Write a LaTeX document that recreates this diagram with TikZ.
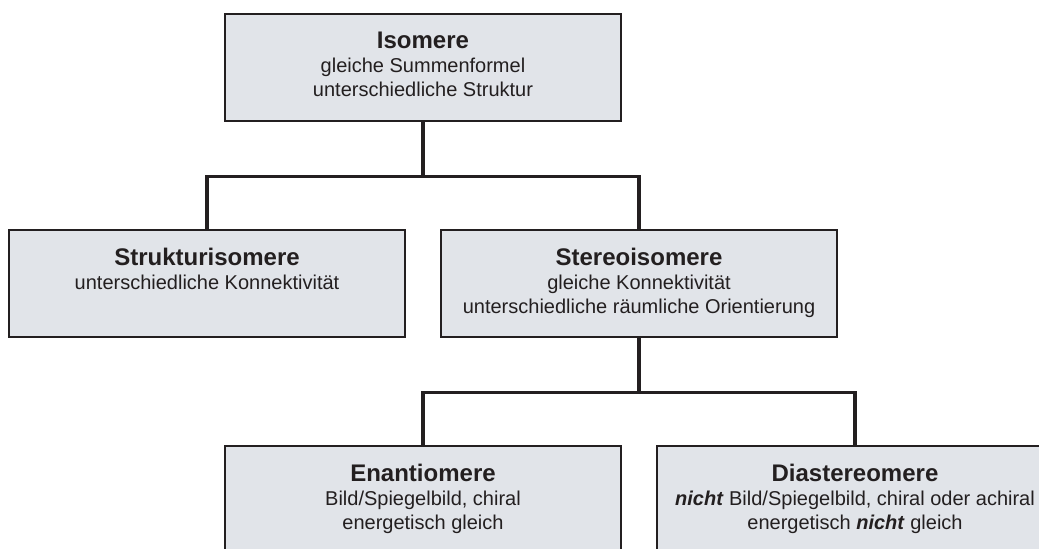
\documentclass[tikz,border=0pt]{standalone}
\usepackage{fontspec}
\setmainfont{Liberation Sans}
\usepackage{tikz}
\usetikzlibrary{positioning}
\definecolor{boxfill}{RGB}{225,228,233}
\definecolor{boxline}{RGB}{35,31,32}
\newcommand{\titel}[1]{{\fontsize{18pt}{18pt}\selectfont\bfseries #1}}
\tikzset{
  box node/.style={rectangle,draw=boxline,fill=boxfill,line width=1.9pt,
	minimum width=297pt,minimum height=80.25pt,inner sep=0pt},
  text node/.style={align=center,inner sep=0pt,text=boxline,
	font=\fontsize{15pt}{18pt}\selectfont},
  link/.style={draw=boxline,line width=2.3pt}
}

\begin{document}
\begin{tikzpicture}[x=0.75pt,y=0.75pt]
			    \useasboundingbox (0,0) rectangle (1039,-549);
			    \clip (0,0) rectangle (1039,-549);
			    \node [box node] (iso) at (423,-67.5) {};
			    \node [box node] (struktur) at (207,-283.5) {};
			    \node [box node] (stereo) at (639,-283.5) {};
			    \node [box node] (enantio) at (423,-499.5) {};
			    \node [box node] (diastereo) at (855,-499.5) {};
			    \node [text node,below=14.25pt of iso.north] (iso text)
			      {\titel{Isomere}\\gleiche Summenformel\\unterschiedliche Struktur};
			    \node [text node,below=14.25pt of struktur.north] (struktur text)
			      {\titel{Strukturisomere}\\unterschiedliche Konnektivität};
			    \node [text node,below=14.25pt of stereo.north] (stereo text)
			      {\titel{Stereoisomere}\\gleiche Konnektivität\\unterschiedliche räumliche Orientierung};
			    \node [text node,below=14.25pt of enantio.north] (enantio text)
			      {\titel{Enantiomere}\\Bild/Spiegelbild, chiral\\energetisch gleich};
			    \node [text node,below=14.25pt of diastereo.north] (diastereo text)
			      {\titel{Diastereomere}\\\textbf{\textit{nicht}} Bild/Spiegelbild, chiral oder achiral\\energetisch \textbf{\textit{nicht}} gleich};
			    \draw [link] (iso.south) -- +(0,-54.5) coordinate (iso fork);
			    \draw [link] (struktur.north) |- (iso fork) -| (stereo.north);
			    \draw [link] (stereo.south) -- +(0,-54.5) coordinate (stereo fork);
			    \draw [link] (enantio.north) |- (stereo fork) -| (diastereo.north);
			  \end{tikzpicture}
\end{document}
